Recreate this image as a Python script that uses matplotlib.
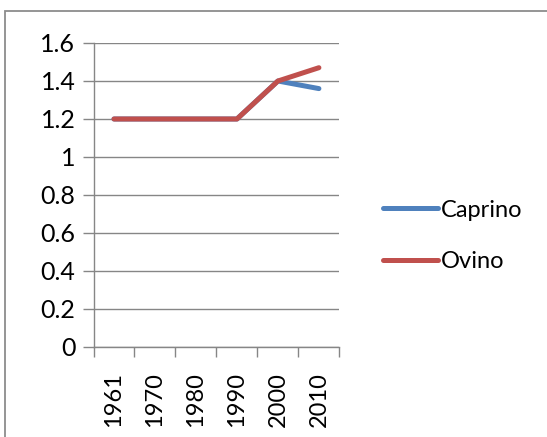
import matplotlib
matplotlib.use("Agg")
import matplotlib.pyplot as plt
from matplotlib.patches import Rectangle
from matplotlib.ticker import FixedLocator, FuncFormatter

categories = ["1961", "1970", "1980", "1990", "2000", "2010"]
caprino = [1.2, 1.2, 1.2, 1.2, 1.4, 1.36]
ovino = [1.2, 1.2, 1.2, 1.2, 1.4, 1.47]
yticks = [0, 0.2, 0.4, 0.6, 0.8, 1.0, 1.2, 1.4, 1.6]

plt.rcParams['font.family'] = ['Lato', 'DejaVu Sans']

W, H = 547, 437
fig = plt.figure(figsize=(W / 100, H / 100), dpi=100)

# outer frame
fig.patches.append(Rectangle((5 / W, -0.1), 1.2, (H - 11) / H + 0.1,
                             transform=fig.transFigure, fill=False,
                             edgecolor="#8c8c8c", linewidth=1.3))

ax = fig.add_axes([93.5 / W, 90 / H, (339.4 - 93.5) / W, (347 - 43) / H])
grid_c = "#868686"
x = [i + 0.5 for i in range(len(categories))]
ax.plot(x, caprino, color="#4F81BD", linewidth=3.6, solid_capstyle="round", label="Caprino")
ax.plot(x, ovino, color="#C0504D", linewidth=3.6, solid_capstyle="round", label="Ovino")

ax.set_xlim(0, len(categories))
ax.set_ylim(0, 1.6)
ax.yaxis.set_major_locator(FixedLocator(yticks))
ax.yaxis.set_major_formatter(FuncFormatter(lambda v, p: f"{v:g}"))
ax.set_axisbelow(True)
ax.grid(axis="y", color=grid_c, linewidth=1)

ax.set_xticks(range(len(categories) + 1))
ax.set_xticklabels([])
ax.set_xticks(x, minor=True)
ax.set_xticklabels(categories, minor=True, rotation=90, fontsize=17)
ax.tick_params(axis="x", which="major", length=7, color=grid_c, width=1)
ax.tick_params(axis="x", which="minor", length=0, pad=18)
ax.tick_params(axis="y", length=8, color=grid_c, width=1, labelsize=18, pad=5)

for s in ["top", "right"]:
    ax.spines[s].set_visible(False)
for s in ["left", "bottom"]:
    ax.spines[s].set_color(grid_c)
    ax.spines[s].set_linewidth(1)

fig.legend(loc="center left", bbox_to_anchor=(362 / W, 1 - 236 / H), frameon=False,
           fontsize=17, handlelength=2.3, handletextpad=0.15, labelspacing=1.3)

fig.savefig("out.png", dpi=100)
